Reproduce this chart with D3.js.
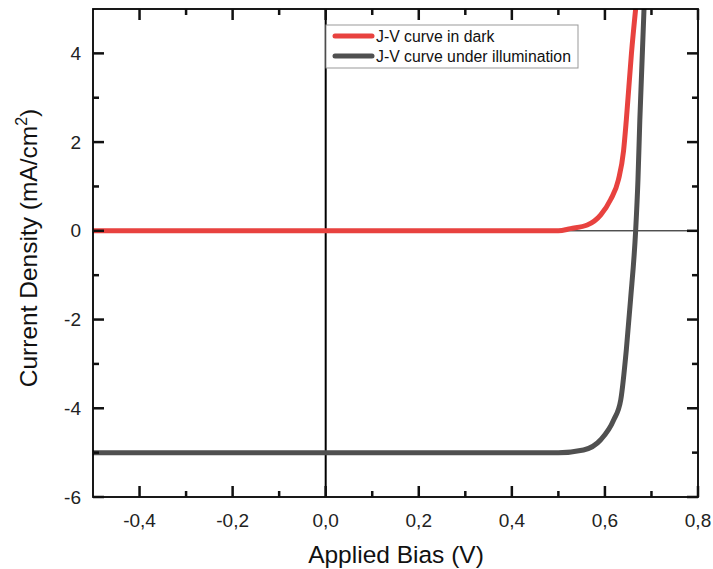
<!DOCTYPE html>
<html>
<head>
<meta charset="utf-8">
<script src="https://cdn.jsdelivr.net/npm/d3@7"></script>
<style>
  body { margin: 0; background: #fff; }
  svg { font-family: Arial, "Liberation Sans", sans-serif; }
</style>
</head>
<body>
<svg width="713" height="569"></svg>
<script>
// J-V curves
var darkV = [-0.5, 0.5, 0.526, 0.562, 0.591, 0.612, 0.629, 0.64, 0.646, 0.657, 0.666];
var darkJ = [0, 0, 0.05, 0.13, 0.36, 0.7, 1.15, 1.8, 2.5, 4, 5];

var lightV = [-0.5, 0.5, 0.554, 0.591, 0.619, 0.634, 0.646, 0.655, 0.666, 0.671, 0.675, 0.684];
var lightJ = [-5, -5, -4.94, -4.71, -4.26, -3.81, -2.68, -1.56, 0, 1.15, 2.5, 5];

var xTicks = [-0.4, -0.2, 0.0, 0.2, 0.4, 0.6, 0.8];
var xMinor = [-0.3, -0.1, 0.1, 0.3, 0.5, 0.7];
var yTicks = [-6, -4, -2, 0, 2, 4];
var yMinor = [-5, -3, -1, 1, 3];
var seriesNames = ["J-V curve in dark", "J-V curve under illumination"];
var seriesColors = ["#e8423f", "#505050"];

var pL = 93, pR = 698, pT = 9, pB = 497;

var svg = d3.select("svg");

var x = d3.scaleLinear().domain([-0.5, 0.8]).range([pL, pR]);
var y = d3.scaleLinear().domain([-6, 5]).range([pB, pT]);

var fmtX = function(d) { return d.toFixed(1).replace(".", ","); };

svg.append("defs").append("clipPath").attr("id", "clip")
    .append("rect")
    .attr("x", pL).attr("y", pT)
    .attr("width", pR - pL).attr("height", pB - pT);

// zero lines
svg.append("line")
    .attr("x1", pL).attr("x2", pR)
    .attr("y1", y(0)).attr("y2", y(0))
    .attr("stroke", "#000").attr("stroke-width", 1);
svg.append("line")
    .attr("x1", x(0)).attr("x2", x(0))
    .attr("y1", pT).attr("y2", pB)
    .attr("stroke", "#000").attr("stroke-width", 2);

// curves
var line = d3.line()
    .x(function(d) { return x(d[0]); })
    .y(function(d) { return y(d[1]); })
    .curve(d3.curveMonotoneX);

var series = [d3.zip(darkV, darkJ), d3.zip(lightV, lightJ)];

svg.append("g").attr("clip-path", "url(#clip)")
    .selectAll("path")
    .data(series)
    .enter().append("path")
    .attr("d", line)
    .attr("fill", "none")
    .attr("stroke", function(d, i) { return seriesColors[i]; })
    .attr("stroke-width", 5)
    .attr("stroke-linejoin", "round");

// frame
svg.append("rect")
    .attr("x", pL).attr("y", pT)
    .attr("width", pR - pL).attr("height", pB - pT)
    .attr("fill", "none").attr("stroke", "#000").attr("stroke-width", 1.8);

// tick marks as small rects, pointing inward on all four sides
var xAll = xTicks.map(function(d) { return [d, 11]; }).concat(xMinor.map(function(d) { return [d, 6]; }));
var yAll = yTicks.map(function(d) { return [d, 11]; }).concat(yMinor.map(function(d) { return [d, 6]; }));
var tw = 2.5;
var tg = svg.append("g").attr("fill", "#111");

tg.selectAll("rect.xb").data(xAll).enter().append("rect")
    .attr("x", function(d) { return x(d[0]) - tw / 2; }).attr("y", function(d) { return pB - d[1]; })
    .attr("width", tw).attr("height", function(d) { return d[1]; });
tg.selectAll("rect.xt").data(xAll).enter().append("rect")
    .attr("x", function(d) { return x(d[0]) - tw / 2; }).attr("y", pT)
    .attr("width", tw).attr("height", function(d) { return d[1]; });
tg.selectAll("rect.yl").data(yAll).enter().append("rect")
    .attr("x", pL).attr("y", function(d) { return y(d[0]) - tw / 2; })
    .attr("width", function(d) { return d[1]; }).attr("height", tw);
tg.selectAll("rect.yr").data(yAll).enter().append("rect")
    .attr("x", function(d) { return pR - d[1]; }).attr("y", function(d) { return y(d[0]) - tw / 2; })
    .attr("width", function(d) { return d[1]; }).attr("height", tw);

// tick labels
svg.append("g").selectAll("text").data(xTicks).enter().append("text")
    .attr("x", function(d) { return x(d); }).attr("y", 527)
    .attr("text-anchor", "middle")
    .attr("font-size", 19).attr("fill", "#222")
    .text(fmtX);

svg.append("g").selectAll("text").data(yTicks).enter().append("text")
    .attr("x", pL - 12).attr("y", function(d) { return y(d); })
    .attr("dy", "0.35em")
    .attr("text-anchor", "end")
    .attr("font-size", 19).attr("fill", "#222")
    .text(function(d) { return String(d); });

// titles
svg.append("text")
    .attr("x", 396).attr("y", 563)
    .attr("text-anchor", "middle")
    .attr("font-size", 24.5).attr("fill", "#111")
    .text("Applied Bias (V)");

var yt = svg.append("text")
    .attr("transform", "translate(37,248) rotate(-90)")
    .attr("text-anchor", "middle")
    .attr("font-size", 24.5).attr("fill", "#111");
yt.append("tspan").text("Current Density (mA/cm");
yt.append("tspan").attr("dy", -10).attr("font-size", 16).text("2");
yt.append("tspan").attr("dy", 10).text(")");

// legend
var lg = svg.append("g");
lg.append("rect")
    .attr("x", 326).attr("y", 25)
    .attr("width", 252).attr("height", 43)
    .attr("fill", "#fff").attr("stroke", "#999").attr("stroke-width", 1);

var items = lg.selectAll("g.item").data(seriesNames).enter().append("g")
    .attr("transform", function(d, i) { return "translate(0," + (36 + i * 20) + ")"; });
items.append("line")
    .attr("x1", 335).attr("x2", 372)
    .attr("stroke", function(d, i) { return seriesColors[i]; })
    .attr("stroke-width", 5).attr("stroke-linecap", "round");
items.append("text")
    .attr("x", 376).attr("dy", "0.35em")
    .attr("font-size", 15.8).attr("fill", "#111")
    .text(function(d) { return d; });
</script>
</body>
</html>
